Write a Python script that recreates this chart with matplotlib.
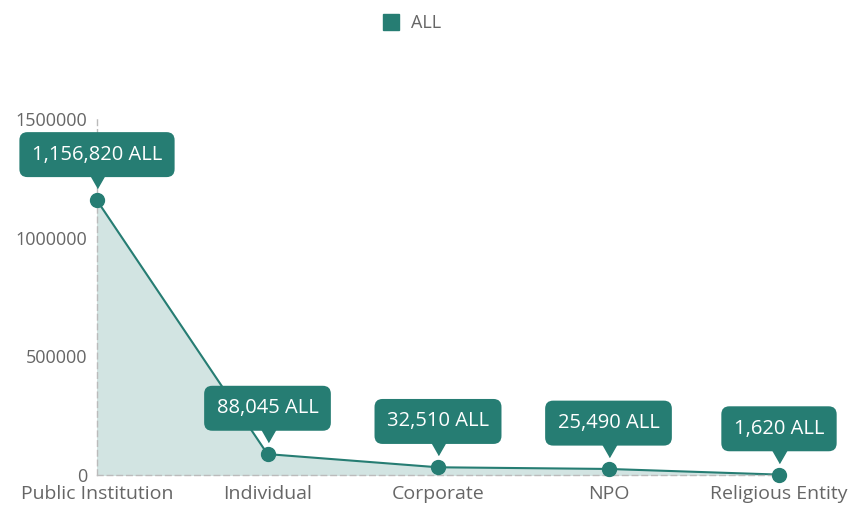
import matplotlib.pyplot as plt
from matplotlib.transforms import offset_copy

plt.rcParams['font.family'] = ['Open Sans', 'DejaVu Sans']

categories = ['Public Institution', 'Individual', 'Corporate', 'NPO', 'Religious Entity']
amounts = [1156820, 88045, 32510, 25490, 1620]
yticks = [0, 500000, 1000000, 1500000]

teal = '#267d73'
fill = '#d2e4e2'
grey = '#666666'

fig = plt.figure(figsize=(8.55, 5.08), dpi=100)
ax = fig.add_axes([97 / 855, 33 / 508, 682 / 855, 356 / 508])

x = range(len(categories))
ax.fill_between(x, amounts, 0, color=fill, zorder=1)
ax.plot(x, amounts, color=teal, linewidth=1.5, zorder=2)
ax.plot(x, amounts, 'o', color=teal, markersize=10, zorder=3, clip_on=False)

ax.set_xlim(0, len(categories) - 1)
ax.set_ylim(0, 1500000)
ax.set_xticks(list(x))
ax.set_xticklabels(categories)
ax.set_yticks(yticks)
ax.set_yticklabels([str(v) for v in yticks])
ax.tick_params(axis='both', colors=grey, length=0)
ax.tick_params(axis='y', pad=7, labelsize=13)
ax.tick_params(axis='x', pad=7, labelsize=14)

for side in ['top', 'right']:
    ax.spines[side].set_visible(False)
for side in ['left', 'bottom']:
    ax.spines[side].set_color('#bbbbbb')
    ax.spines[side].set_linestyle((0, (4, 3)))
    ax.spines[side].set_linewidth(1)

# value callouts: rounded box with a small pointer under it
pointer = offset_copy(ax.transData, fig=fig, x=0, y=19, units='dots')
for i, v in enumerate(amounts):
    ax.annotate(f'{v:,} ALL', (i, v), xytext=(0, 33), textcoords='offset points',
                ha='center', va='center', color='white', fontsize=14.5,
                bbox=dict(boxstyle='round,pad=0.62,rounding_size=0.4', fc=teal, ec='none'),
                annotation_clip=False, zorder=5)
    ax.plot(i, v, marker=[(-8, 7), (8, 7), (0, -7)], markersize=11.5, color=teal,
            transform=pointer, clip_on=False, zorder=5)

leg = fig.legend(loc='center', bbox_to_anchor=(407 / 855, 1 - 23 / 508), frameon=False,
                 handles=[plt.Line2D([], [], marker='s', color=teal, linestyle='none', markersize=12)],
                 labels=['ALL'], fontsize=13, handletextpad=0.1)
for t in leg.get_texts():
    t.set_color(grey)

fig.savefig('out.png', dpi=100)
